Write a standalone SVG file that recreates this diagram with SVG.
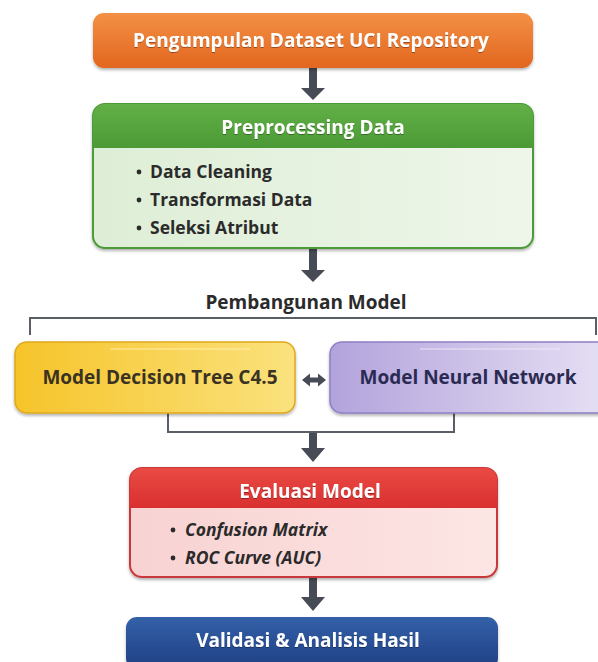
<svg xmlns="http://www.w3.org/2000/svg" width="598" height="662" viewBox="0 0 598 662">
  <defs>
    <linearGradient id="gOrange" x1="0" y1="0" x2="0" y2="1">
      <stop offset="0" stop-color="#f39045"/>
      <stop offset="1" stop-color="#e2661f"/>
    </linearGradient>
    <linearGradient id="gGreenHead" x1="0" y1="0" x2="0" y2="1">
      <stop offset="0" stop-color="#62b046"/>
      <stop offset="1" stop-color="#4c9a36"/>
    </linearGradient>
    <linearGradient id="gGreenBody" x1="0" y1="0" x2="1" y2="0">
      <stop offset="0" stop-color="#deeed6"/>
      <stop offset="1" stop-color="#eef6ea"/>
    </linearGradient>
    <linearGradient id="gRedHead" x1="0" y1="0" x2="0" y2="1">
      <stop offset="0" stop-color="#ea4a44"/>
      <stop offset="1" stop-color="#d9302f"/>
    </linearGradient>
    <linearGradient id="gRedBody" x1="0" y1="0" x2="1" y2="0">
      <stop offset="0" stop-color="#f8d2d2"/>
      <stop offset="1" stop-color="#fce6e4"/>
    </linearGradient>
    <linearGradient id="gBlue" x1="0" y1="0" x2="0" y2="1">
      <stop offset="0" stop-color="#3461a8"/>
      <stop offset="1" stop-color="#1f3f84"/>
    </linearGradient>
    <linearGradient id="gYellow" x1="0" y1="0" x2="1" y2="0">
      <stop offset="0" stop-color="#f6c42a"/>
      <stop offset="1" stop-color="#fbe27e"/>
    </linearGradient>
    <linearGradient id="gPurple" x1="0" y1="0" x2="1" y2="0">
      <stop offset="0" stop-color="#b3a3dc"/>
      <stop offset="1" stop-color="#e6e0f4"/>
    </linearGradient>
    <filter id="shadow" x="-5%" y="-10%" width="110%" height="130%">
      <feDropShadow dx="0" dy="2" stdDeviation="1.5" flood-color="#000" flood-opacity="0.3"/>
    </filter>
    <filter id="txtShadow" x="-5%" y="-20%" width="110%" height="150%">
      <feDropShadow dx="0" dy="1" stdDeviation="0.6" flood-color="#000" flood-opacity="0.35"/>
    </filter>
    <clipPath id="clipGreen"><rect x="93" y="104" width="440" height="144" rx="12"/></clipPath>
    <clipPath id="clipRed"><rect x="130" y="468" width="367" height="109" rx="12"/></clipPath>
  </defs>
  <style>
    text { font-family: "Open Sans", "DejaVu Sans", sans-serif; font-weight: 700; }
    .head { fill: #ffffff; font-size: 19px; text-anchor: middle; }
    .item { fill: #2b2b2b; font-size: 17.5px; }
    .dot { fill: #2b2b2b; }
    .dark { fill: #2b2b2b; font-size: 19px; text-anchor: middle; }
    .arrow { fill: #474b55; }
    .line { fill: none; stroke: #5a5e66; stroke-width: 2; }
    .gloss { stroke-width: 1.5; opacity: 0.55; }
  </style>

  <rect width="598" height="662" fill="#ffffff"/>

  <!-- connectors -->
  <g id="connectors">
    <!-- down arrows -->
    <path class="arrow" d="M309 68 H317 V88 H325 L313 100 L301 88 H309 Z"/>
    <path class="arrow" d="M309 248 H317 V270 H325 L313 282 L301 270 H309 Z"/>
    <path class="arrow" d="M309 432 H317 V448 H325 L313 462 L301 448 H309 Z"/>
    <path class="arrow" d="M309 578 H317 V597 H325 L313 611 L301 597 H309 Z"/>
    <!-- bracket over the two models -->
    <path class="line" d="M30 335 V318 H596 V335"/>
    <!-- bracket joining the two models -->
    <path class="line" d="M168 413 V432 H454 V412"/>
    <!-- two-way arrow between models -->
    <path class="arrow" d="M302 380 L310 373.5 V377.5 H318 V373.5 L326 380 L318 386.5 V382.5 H310 V386.5 Z"/>
  </g>

  <!-- Pengumpulan Dataset -->
  <g id="node-dataset">
    <rect x="93" y="13" width="440" height="55" rx="11" fill="url(#gOrange)" filter="url(#shadow)"/>
    <text class="head" x="311" y="47" filter="url(#txtShadow)">Pengumpulan Dataset UCI Repository</text>
  </g>

  <!-- Preprocessing -->
  <g id="node-preprocessing">
    <rect x="93" y="104" width="440" height="144" rx="12" fill="url(#gGreenBody)" stroke="#4d9a38" stroke-width="2" filter="url(#shadow)"/>
    <rect x="93" y="104" width="440" height="44" fill="url(#gGreenHead)" clip-path="url(#clipGreen)"/>
    <text class="head" x="313" y="134" filter="url(#txtShadow)">Preprocessing Data</text>
    <circle class="dot" cx="139" cy="172" r="2.4"/>
    <circle class="dot" cx="139" cy="200" r="2.4"/>
    <circle class="dot" cx="139" cy="228" r="2.4"/>
    <text class="item" x="150" y="178">Data Cleaning</text>
    <text class="item" x="150" y="206">Transformasi Data</text>
    <text class="item" x="150" y="234">Seleksi Atribut</text>
  </g>

  <!-- section title -->
  <g id="label-pembangunan">
    <text class="dark" x="306" y="309">Pembangunan Model</text>
  </g>

  <!-- Decision tree -->
  <g id="node-c45">
    <rect x="15" y="342" width="280" height="71" rx="12" fill="url(#gYellow)" stroke="#e0a81c" stroke-width="1.5" filter="url(#shadow)"/>
    <path class="gloss" d="M110 349 H250" stroke="#fff3b8"/>
    <text class="dark" x="160" y="384" style="fill:#3a3222">Model Decision Tree C4.5</text>
  </g>

  <!-- Neural network -->
  <g id="node-nn">
    <rect x="330" y="342" width="280" height="71" rx="12" fill="url(#gPurple)" stroke="#8f7fc4" stroke-width="1.5" filter="url(#shadow)"/>
    <path class="gloss" d="M420 349 H560" stroke="#f2eefb"/>
    <text class="dark" x="468" y="384" style="fill:#2a2a52">Model Neural Network</text>
  </g>

  <!-- Evaluasi -->
  <g id="node-evaluasi">
    <rect x="130" y="468" width="367" height="109" rx="12" fill="url(#gRedBody)" stroke="#c9393a" stroke-width="2" filter="url(#shadow)"/>
    <rect x="130" y="468" width="367" height="40" fill="url(#gRedHead)" clip-path="url(#clipRed)"/>
    <text class="head" x="310" y="498" filter="url(#txtShadow)">Evaluasi Model</text>
    <circle class="dot" cx="173" cy="530" r="2.4"/>
    <circle class="dot" cx="173" cy="558" r="2.4"/>
    <text class="item" x="185" y="536" font-style="italic">Confusion Matrix</text>
    <text class="item" x="185" y="564" font-style="italic">ROC Curve (AUC)</text>
  </g>

  <!-- Validasi -->
  <g id="node-validasi">
    <rect x="126" y="617" width="372" height="52" rx="11" fill="url(#gBlue)" filter="url(#shadow)"/>
    <text class="head" x="308" y="647" filter="url(#txtShadow)">Validasi &amp; Analisis Hasil</text>
  </g>
</svg>
